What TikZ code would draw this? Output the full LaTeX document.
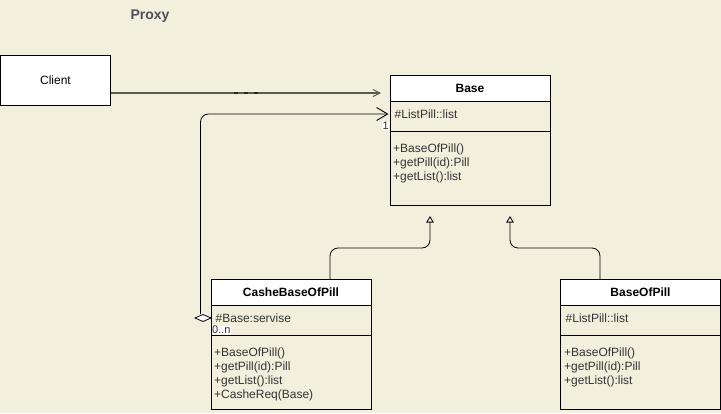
\documentclass[tikz,border=0pt]{standalone}
\usepackage{fontspec}
\setmainfont{Liberation Sans}
\usetikzlibrary{arrows.meta}
\definecolor{bg}{HTML}{F3EFDD}
\definecolor{txt}{HTML}{333333}
\definecolor{ttl}{HTML}{4F4F5A}
\begin{document}
\begin{tikzpicture}[x=1pt,y=-1pt,
  clsbox/.style={draw=black,fill=bg,line width=0.8pt,inner sep=0pt,minimum width=160pt,minimum height=130pt},
  hdrbox/.style={draw=black,fill=white,line width=0.8pt,inner sep=0pt,minimum width=160pt,minimum height=26pt,anchor=north,font=\bfseries\fontsize{12}{14}\selectfont},
  attrtxt/.style={anchor=west,inner sep=0pt,text=txt,font=\fontsize{12}{14}\selectfont},
  methtxt/.style={anchor=north west,inner sep=0pt,text=txt,align=left,font=\fontsize{12}{14}\selectfont},
  divline/.style={draw=black,line width=0.8pt},
  conn/.style={draw=black,line width=0.8pt,rounded corners=8pt},
  multlbl/.style={inner sep=0.5pt,fill=white,text=txt,font=\fontsize{11}{12}\selectfont},
  inh/.style={-{Triangle[open,length=6.5pt,width=7.5pt,fill=bg]}}
]
\useasboundingbox[fill=bg] (0,0) rectangle (721,413);

% title
\node[inner sep=0pt,text=ttl,font=\bfseries\fontsize{14}{16}\selectfont] (title) at (150,16) {Proxy};

% client
\node[draw=black,fill=white,line width=0.8pt,minimum width=110pt,minimum height=50pt,inner sep=0pt,font=\fontsize{12}{14}\selectfont] (client) at (55.5,80.5) {Client};

% Base
\node[clsbox] (base) at (470,140) {};
\node[hdrbox] (baseh) at (base.north) {Base};
\draw[divline] (390,131) -- (550,131);
\node[attrtxt] (basea) at (394.5,114.5) {\#ListPill::list};
\node[methtxt] (basem) at (393,144) {+BaseOfPill()\\+getPill(id):Pill\\+getList():list};

% CasheBaseOfPill
\node[clsbox] (cashe) at (291,344) {};
\node[hdrbox] (casheh) at (cashe.north) {CasheBaseOfPill};
\draw[divline] (211,335) -- (371,335);
\node[attrtxt] (cashea) at (215.5,318) {\#Base:servise};
\node[methtxt] (cashem) at (214,348) {+BaseOfPill()\\+getPill(id):Pill\\+getList():list\\+CasheReq(Base)};

% BaseOfPill
\node[clsbox] (bop) at (640.5,344) {};
\node[hdrbox] (boph) at (bop.north) {BaseOfPill};
\draw[divline] (560.5,335) -- (720.5,335);
\node[attrtxt] (bopa) at (565.5,318) {\#ListPill::list};
\node[methtxt] (bopm) at (564,348) {+BaseOfPill()\\+getPill(id):Pill\\+getList():list};

% Client -> Base
\coordinate (ca) at (111,93);
\coordinate (cb) at (381,93);
\draw[draw=black!65,line width=1.3pt,-{Straight Barb[length=7pt,width=7pt,line width=0.9pt]}] (ca) -- (cb);
\draw[draw=black!85,line width=1.3pt] (234,93) -- (238,93) (244,93) -- (248,93) (254,93) -- (258,93);

% aggregation Cashe -> Base
\coordinate (dtop) at (200.5,314);
\coordinate (bt) at (388.5,114);
\draw[conn,-{Straight Barb[length=11pt,width=13pt,line width=0.9pt]}] (dtop) -- (200.5,114) -- (bt);
\coordinate (dia) at (203,318);
\path[draw=black,fill=white,line width=0.8pt] (195,318) -- (203,314.5) -- (211,318) -- (203,321.5) -- cycle;
\node[multlbl,anchor=north east] (one) at (389.5,121) {1};
\node[multlbl,anchor=south west] (zn) at (211.5,334.5) {0..n};

% inheritance
\coordinate (s1) at (330,279);
\coordinate (s2) at (600,279);
\coordinate (t1) at (430,216);
\coordinate (t2) at (510,216);
\draw[conn,inh] (s1) -- (330,248) -- (430,248) -- (t1);
\draw[conn,inh] (s2) -- (600,248) -- (510,248) -- (t2);
\end{tikzpicture}
\end{document}
